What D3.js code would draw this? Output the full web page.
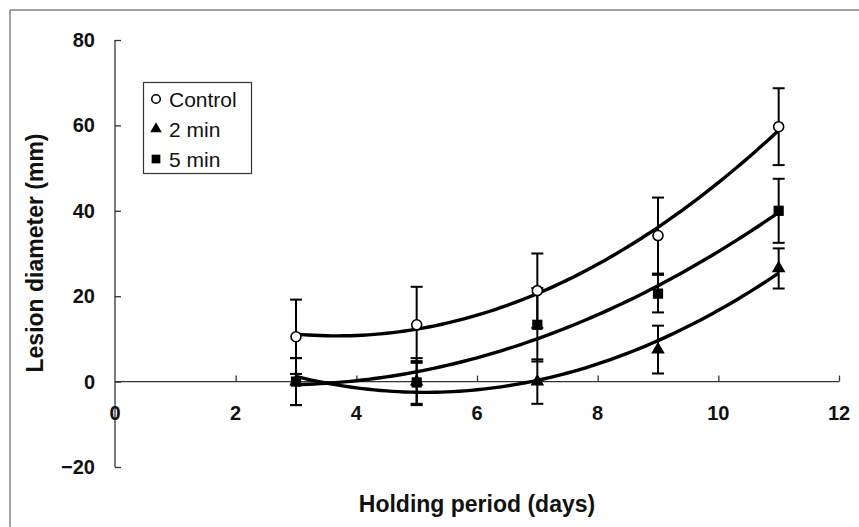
<!DOCTYPE html>
<html>
<head>
<meta charset="utf-8">
<script src="https://cdn.jsdelivr.net/npm/d3@7"></script>
<style>
  body { margin: 0; background: #fff; }
  svg { display: block; }
  text { font-family: "Liberation Sans", Arial, sans-serif; fill: #111; }
</style>
</head>
<body>
<div class="chart"></div>
<script>
// values
var days = [3, 5, 7, 9, 11];
var control = [10.5, 13.3, 21.3, 34.2, 59.7];
var min2 = [0, 0, 0, 7.5, 26.5];
var min5 = [0, -0.2, 13.3, 20.6, 40];
var controlErr = [8.7, 8.9, 8.7, 8.9, 9.0];
var min2Err = [5.5, 5.5, 5.2, 5.6, 4.7];
var min5Err = [5.5, 5.0, 8.6, 4.4, 7.5];
var xTicks = [0, 2, 4, 6, 8, 10, 12];
var yTicks = [-20, 0, 20, 40, 60, 80];
var seriesNames = ["Control", "2 min", "5 min"];

var width = 859, height = 527;

var svg = d3.select(".chart").append("svg")
    .attr("width", width)
    .attr("height", height);

var x = d3.scaleLinear().domain([0, 12]).range([115, 839]);
var y = d3.scaleLinear().domain([-20, 80]).range([467, 40]);

// outer frame (only top and left edges show in the figure)
svg.append("path")
    .attr("d", "M10," + height + "V10H" + width)
    .attr("fill", "none")
    .attr("stroke", "#444")
    .attr("stroke-width", 1);

// y axis
var yAxis = svg.append("g")
    .attr("transform", "translate(" + x(0) + ",0)")
    .call(d3.axisRight(y).tickValues(yTicks).tickSize(6).tickFormat(""));
yAxis.select(".domain").remove();
yAxis.selectAll("line").attr("stroke", "#333").attr("stroke-width", 1.3);
svg.append("line")
    .attr("x1", x(0)).attr("x2", x(0))
    .attr("y1", y(80)).attr("y2", y(-20))
    .attr("stroke", "#333").attr("stroke-width", 1.3);

svg.selectAll(".ylab")
    .data(yTicks)
  .enter().append("text")
    .attr("class", "ylab")
    .attr("x", 95)
    .attr("y", function(d) { return y(d); })
    .attr("dy", "0.35em")
    .attr("text-anchor", "end")
    .style("font-size", "20px")
    .style("font-weight", "bold")
    .text(function(d) { return d < 0 ? "\u2212" + Math.abs(d) : d; });

// x axis along y = 0
var xAxis = svg.append("g")
    .attr("transform", "translate(0," + y(0) + ")")
    .call(d3.axisTop(x).tickValues(xTicks.slice(1)).tickSize(6).tickFormat(""));
xAxis.select(".domain").remove();
xAxis.selectAll("line").attr("stroke", "#333").attr("stroke-width", 1.3);
svg.append("line")
    .attr("x1", x(0)).attr("x2", x(12))
    .attr("y1", y(0)).attr("y2", y(0))
    .attr("stroke", "#333").attr("stroke-width", 1.3);

svg.selectAll(".xlab")
    .data(xTicks)
  .enter().append("text")
    .attr("class", "xlab")
    .attr("x", function(d) { return x(d); })
    .attr("y", 420)
    .attr("text-anchor", "middle")
    .style("font-size", "20px")
    .style("font-weight", "bold")
    .text(function(d) { return d; });

// axis titles
svg.append("text")
    .attr("x", 477)
    .attr("y", 512)
    .attr("text-anchor", "middle")
    .style("font-size", "23px")
    .style("font-weight", "bold")
    .text("Holding period (days)");

svg.append("text")
    .attr("transform", "translate(43,253) rotate(-90)")
    .attr("text-anchor", "middle")
    .style("font-size", "23px")
    .style("font-weight", "bold")
    .text("Lesion diameter (mm)");

// quadratic least-squares trend lines
function quadFit(xs, ys) {
  var n = xs.length, mx = d3.mean(xs);
  var t = xs.map(function(v) { return v - mx; });
  var s2 = d3.sum(t, function(v) { return v * v; });
  var s3 = d3.sum(t, function(v) { return v * v * v; });
  var s4 = d3.sum(t, function(v) { return v * v * v * v; });
  var sy = d3.sum(ys);
  var sty = d3.sum(t, function(v, i) { return v * ys[i]; });
  var st2y = d3.sum(t, function(v, i) { return v * v * ys[i]; });
  // solve 3x3 normal equations
  var A = [[n, 0, s2], [0, s2, s3], [s2, s3, s4]];
  var B = [sy, sty, st2y];
  for (var i = 0; i < 3; i++) {
    for (var k = i + 1; k < 3; k++) {
      var f = A[k][i] / A[i][i];
      for (var j = i; j < 3; j++) A[k][j] -= f * A[i][j];
      B[k] -= f * B[i];
    }
  }
  var c = [0, 0, 0];
  for (var i = 2; i >= 0; i--) {
    var s = B[i];
    for (var j = i + 1; j < 3; j++) s -= A[i][j] * c[j];
    c[i] = s / A[i][i];
  }
  return function(v) { var u = v - mx; return c[0] + c[1] * u + c[2] * u * u; };
}

var series = [
  {name: seriesNames[0], values: control, err: controlErr, shape: "circle"},
  {name: seriesNames[1], values: min2, err: min2Err, shape: "triangle"},
  {name: seriesNames[2], values: min5, err: min5Err, shape: "square"}
];

var line = d3.line()
    .x(function(d) { return x(d[0]); })
    .y(function(d) { return y(d[1]); });

series.forEach(function(s) {
  var fit = quadFit(days, s.values);
  var pts = d3.range(days[0], days[days.length - 1] + 0.001, 0.1).map(function(v) { return [v, fit(v)]; });
  svg.append("path")
      .attr("d", line(pts))
      .attr("fill", "none")
      .attr("stroke", "#000")
      .attr("stroke-width", 3.4);
});

// error bars
series.forEach(function(s) {
  var g = svg.append("g").attr("stroke", "#000").attr("stroke-width", 2);
  days.forEach(function(d, i) {
    var lo = y(s.values[i] - s.err[i]), hi = y(s.values[i] + s.err[i]), cx = x(d);
    g.append("line").attr("x1", cx).attr("x2", cx).attr("y1", lo).attr("y2", hi);
    g.append("line").attr("x1", cx - 6).attr("x2", cx + 6).attr("y1", lo).attr("y2", lo);
    g.append("line").attr("x1", cx - 6).attr("x2", cx + 6).attr("y1", hi).attr("y2", hi);
  });
});

// markers
function drawMarker(sel, shape, k) {
  if (shape === "circle") {
    sel.append("circle").attr("r", 5 * k)
        .attr("fill", "#fff").attr("stroke", "#000").attr("stroke-width", 1.6);
  } else if (shape === "triangle") {
    sel.append("path").attr("d", d3.symbol(d3.symbolTriangle, 80 * k * k)())
        .attr("fill", "#000");
  } else {
    sel.append("path").attr("d", d3.symbol(d3.symbolSquare, 105 * k * k)())
        .attr("fill", "#000");
  }
}

series.forEach(function(s) {
  days.forEach(function(d, i) {
    var g = svg.append("g")
        .attr("transform", "translate(" + x(d) + "," + y(s.values[i]) + ")");
    drawMarker(g, s.shape, 1);
  });
});

// legend
var legend = svg.append("g");
legend.append("rect")
    .attr("x", 143.5).attr("y", 82.5)
    .attr("width", 108).attr("height", 91)
    .attr("fill", "#fff")
    .attr("stroke", "#333")
    .attr("stroke-width", 1.2);

series.forEach(function(s, i) {
  var row = legend.append("g")
      .attr("transform", "translate(0," + (99 + i * 30) + ")");
  var m = row.append("g").attr("transform", "translate(156,0)");
  drawMarker(m, s.shape, 0.85);
  row.append("text")
      .attr("x", 169)
      .attr("y", 0)
      .attr("dy", "0.36em")
      .style("font-size", "21px")
      .text(s.name);
});
</script>
</body>
</html>
